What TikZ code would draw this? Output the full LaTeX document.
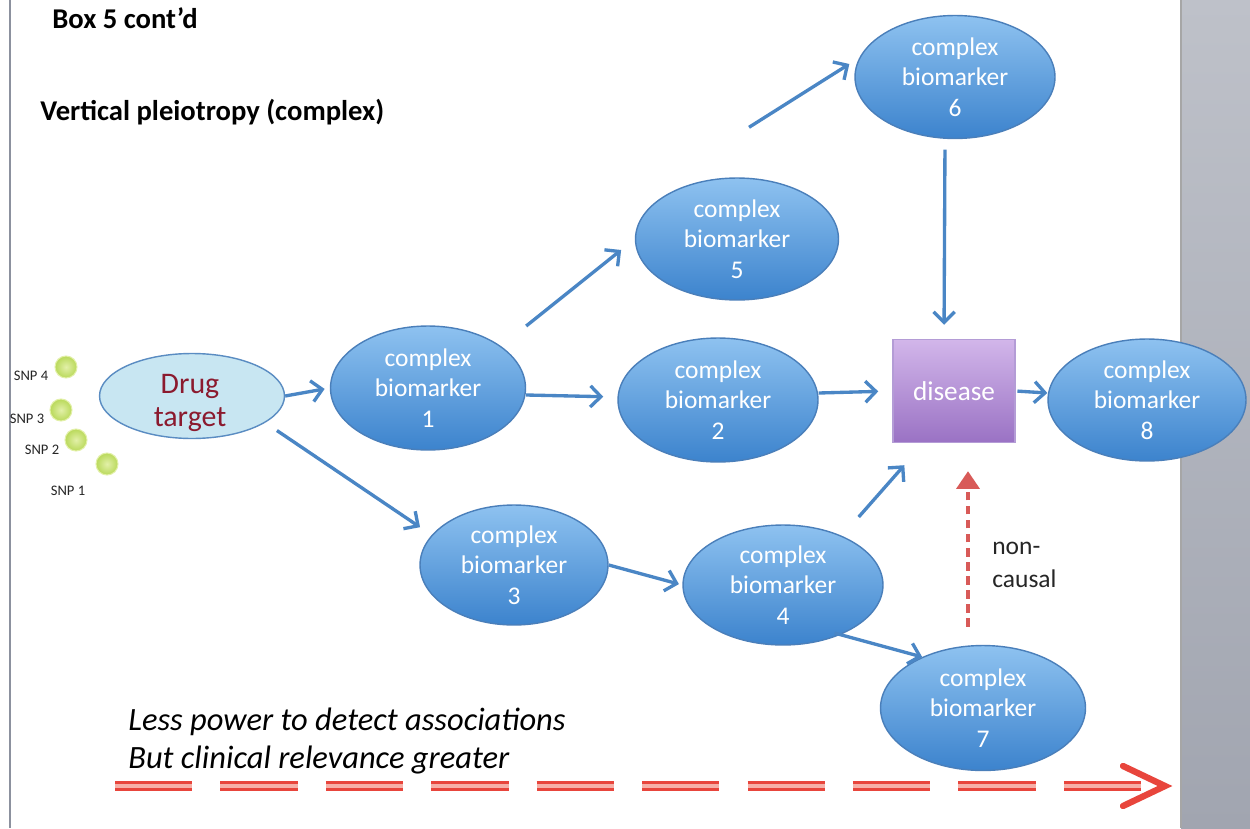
\documentclass[tikz,border=0pt]{standalone}
\usepackage{fontspec}
\setmainfont{Carlito}
\usetikzlibrary{shapes.geometric,arrows.meta,calc}
\definecolor{bmtop}{HTML}{8EC2F0}
\definecolor{bmbot}{HTML}{3C83CD}
\definecolor{bmedge}{HTML}{4A7FBA}
\definecolor{arrblue}{HTML}{4A86C5}
\definecolor{dtfill}{HTML}{C8E6F2}
\definecolor{dtedge}{HTML}{5A8CC2}
\definecolor{dttext}{HTML}{8B1A2E}
\definecolor{distop}{HTML}{D2B6EA}
\definecolor{disbot}{HTML}{9A72C4}
\definecolor{disedge}{HTML}{B49CD6}
\definecolor{ncred}{HTML}{D85A58}
\definecolor{bigred}{HTML}{E8453C}
\definecolor{bigpink}{HTML}{F6B0A8}
\definecolor{snpg}{HTML}{B9D95A}
\definecolor{snpl}{HTML}{E2F0A8}
\definecolor{paneltop}{HTML}{BEC1C9}
\definecolor{panelbot}{HTML}{A1A5B0}
\definecolor{leftline}{HTML}{8C919E}
\begin{document}
\begin{tikzpicture}[x=0.02cm,y=-0.02cm,
  bm/.style={ellipse, draw=bmedge, line width=0.8pt, top color=bmtop, bottom color=bmbot,
    text=white, align=center, inner sep=0pt, font=\fontsize{14.5}{17.5}\selectfont},
  arr/.style={draw=arrblue, line width=1.9pt, -{Straight Barb[length=6pt,width=12pt,line width=1.9pt]}},
  snp/.style={circle, draw=snpl, line width=0.6pt, inner color=snpl, outer color=snpg, minimum size=0.44cm, inner sep=0pt},
  snplab/.style={font=\fontsize{8.3}{9}\selectfont, text=black!85, inner sep=0pt},
  title/.style={font=\bfseries\fontsize{16.3}{19}\selectfont, anchor=west, inner sep=0pt},
  ital/.style={font=\itshape\fontsize{18.5}{22}\selectfont, anchor=west, inner sep=0pt}
]
\useasboundingbox (0,0) rectangle (1250,828);
\fill[white] (0,0) rectangle (1250,828);
% right panel and left line
\shade[top color=paneltop, bottom color=panelbot] (1181,0) rectangle (1250,828);
\draw[black!35, line width=0.8pt] (1181,0) -- (1181,828);
\draw[leftline, line width=1.7pt] (10,0) -- (10,828);

% titles
\node[title] (t1) at (52,18) {Box 5 cont’d};
\node[title] (t2) at (40,112) {Vertical pleiotropy (complex)};

% drug target
\node[ellipse, draw=dtedge, line width=0.8pt, fill=dtfill, minimum width=3.7cm, minimum height=1.7cm,
  inner sep=0pt] (dt) at (192,396) {};
\node[text=dttext, align=center, inner sep=0pt, font=\fontsize{17}{18.5}\selectfont] (dtt) at (190,403) {Drug\\target};

% SNPs
\node[snp] (s4) at (66,367) {};
\node[snp] (s3) at (61,410) {};
\node[snp] (s2) at (76,440) {};
\node[snp] (s1) at (107,464) {};
\node[snplab] (l4) at (31,376) {SNP 4};
\node[snplab] (l3) at (27,419) {SNP 3};
\node[snplab] (l2) at (42,450) {SNP 2};
\node[snplab] (l1) at (68,491) {SNP 1};

% biomarkers
\node[bm, minimum width=3.9cm, minimum height=2.48cm] (b1) at (428,388) {complex\\biomarker\\1};
\node[bm, minimum width=4.06cm, minimum height=2.44cm] (b5) at (737,239) {complex\\biomarker\\5};
\node[bm, minimum width=4.0cm, minimum height=2.46cm] (b6) at (955,77) {complex\\biomarker\\6};
\node[bm, minimum width=4.0cm, minimum height=2.48cm] (b2) at (718,400) {complex\\biomarker\\2};
\node[bm, minimum width=3.76cm, minimum height=2.4cm] (b3) at (514,565) {complex\\biomarker\\3};
\node[bm, minimum width=4.0cm, minimum height=2.4cm] (b4) at (783,585) {complex\\biomarker\\4};
\node[bm, minimum width=4.1cm, minimum height=2.5cm] (b7) at (983,708) {complex\\biomarker\\7};
\node[bm, minimum width=3.96cm, minimum height=2.44cm] (b8) at (1147,400) {complex\\biomarker\\8};

% disease
\node[rectangle, draw=disedge, line width=0.8pt, top color=distop, bottom color=disbot,
  minimum width=2.44cm, minimum height=2.06cm, inner sep=0pt, text=white,
  font=\fontsize{15.5}{18}\selectfont] (dis) at (954,391) {disease};

% arrows
\draw[arr, shorten >=3pt] (dt.east) -- (b1.west);
\draw[arr, shorten <=8pt, shorten >=8pt] (dt.-20) -- (b3.160);
\draw[arr, shorten >=10pt] ([shift={(0,-62)}]b1.east) -- (b5.west);
\draw[arr, shorten >=8pt] ([shift={(0,7)}]b1.east) -- ([shift={(0,-3)}]b2.west);
\draw[arr] ([shift={(12,-50)}]b5.north) -- ([shift={(-5,-13)}]b6.west);
\draw[arr, shorten <=6pt, shorten >=8pt] ([shift={(-10,0)}]b6.south) -- ([shift={(-10,0)}]dis.north);
\draw[arr, shorten >=8pt] ([shift={(0,-7)}]b2.east) -- (dis.west);
\draw[arr, shorten <=1pt] (dis.east) -- ([shift={(0,-7)}]b8.west);
\draw[arr, shorten >=2pt] (b3.east) -- (b4.west);
\draw[arr] ([shift={(-25,-68)}]b4.east) -- ([shift={(12,22)}]dis.south west);
\draw[arr] ([shift={(-10,0)}]b4.-38) -- (b7.140);

% non-causal
\draw[ncred, line width=2pt, dash pattern=on 5pt off 3pt, -{Triangle[length=10pt,width=13pt]}]
  ([shift={(-15,-18)}]b7.north) -- ([shift={(14,28)}]dis.south);
\node[anchor=west, align=left, inner sep=0pt, text=black!85, font=\fontsize{14.5}{19}\selectfont] (nc) at (992,565) {non-\\causal};

% bottom texts
\node[ital] (it1) at (128,722) {Less power to detect associations};
\node[ital] (it2) at (128,760) {But clinical relevance greater};

% bottom dashed double arrow
\coordinate (ps) at (115,786);
\coordinate (pe) at (1165,786);
\draw[bigred, line width=2.2pt, double=bigpink, double distance=1.8pt, dash pattern=on 44pt off 16pt]
  (ps) -- ([shift={(-12,0)}]pe);
\draw[bigred, line width=3.6pt, line cap=round, line join=miter]
  ([shift={(-42,-20)}]pe) -- (pe) -- ([shift={(-42,20)}]pe);
\end{tikzpicture}
\end{document}
